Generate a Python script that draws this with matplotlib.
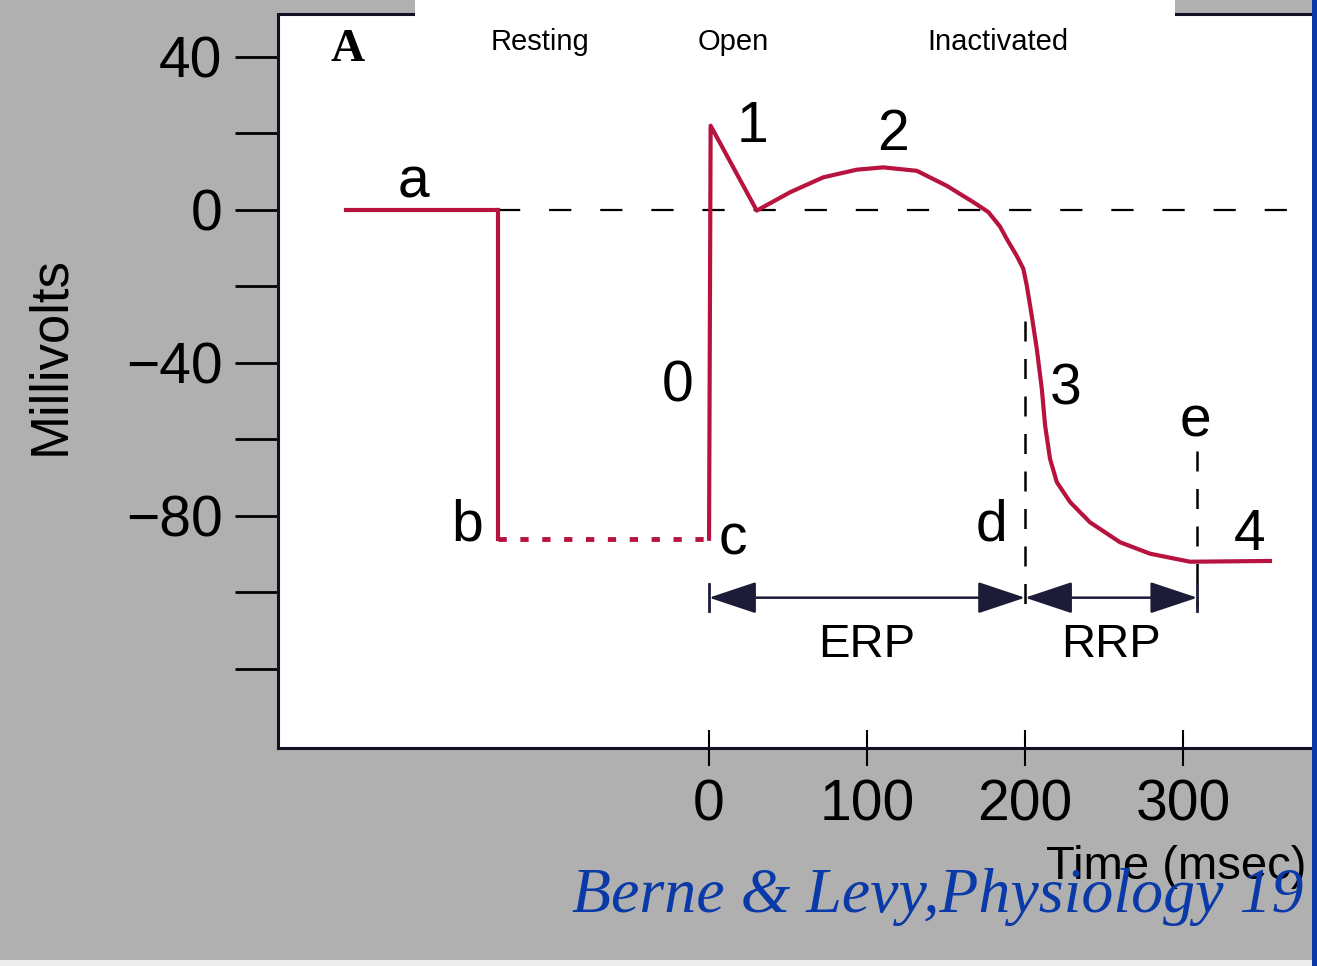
import matplotlib
matplotlib.use('Agg')
import matplotlib.pyplot as plt
from matplotlib.patches import Rectangle, FancyArrowPatch

plt.rcParams['font.family'] = ['Liberation Sans', 'DejaVu Sans']

# resting segment (a)
rest_t = [-230, -133.5]
rest_v = [0, 0]
# hyperpolarizing step a -> b
drop_t = [-133.5, -133.5]
drop_v = [0, -86]
# dotted b -> c
stim_t = [-133.5, 0]
stim_v = [-86, -86]
# action potential from c
ap_t = [0, 1, 30.2, 51.3, 72.3, 93.5, 110.3, 131.5, 150.4, 167.3, 176.8, 184.2,
        188.4, 194.7, 198.9, 201.1, 204.2, 207.4, 210.6, 212.7, 215.8, 220.1,
        228.5, 241.1, 260.1, 279.1, 304.4, 355]
ap_v = [-86, 22, -0.2, 4.6, 8.5, 10.5, 11.1, 10.2, 6.3, 2.0, -0.6, -4.4,
        -7.6, -12.0, -15.4, -19.8, -27.6, -36.3, -46.8, -56.4, -65.1, -71.2,
        -76.4, -81.7, -86.9, -89.9, -92.0, -91.8]

# zero reference line, d / e markers
zero_t = [-133.5, 400]
d_t, d_v = [200, 200], [-29, -103.5]
e_t, e_v = [309, 309], [-63, -103.5]

# refractory periods
erp = (0, 200)
rrp = (200, 309)
arrow_v = -101.4

y_major = [40, 0, -40, -80]
y_minor = [20, -20, -60, -100, -120]
x_major = [0, 100, 200, 300]

curve_labels = [('a', -187.3, 7.1), ('b', -153.2, -82.4), ('c', 15.2, -86.3),
                ('0', -19.6, -46.3), ('1', 27.8, 21.7), ('2', 116.5, 19.6),
                ('3', 226, -47), ('d', 179, -82.4), ('e', 307.6, -55.4),
                ('4', 342.4, -85)]
state_labels = [('Resting', 540), ('Open', 733), ('Inactivated', 998)]

red = '#b8123f'
ink = '#1c1c38'
W, H = 1317, 966

fig = plt.figure(figsize=(13.17, 9.66), dpi=100, facecolor='#b0b0b0')
ax = fig.add_axes([278 / W, 1 - 748 / H, (1312 - 278) / W, (748 - 14) / H])
ax.set_facecolor('white')
ax.set_xlim(-272.8, 381.6)
ax.set_ylim(-140.7, 51.2)

ax.plot(zero_t, [0, 0], color='black', lw=1.6, ls=(0, (10, 13)))
ax.plot(rest_t, rest_v, color=red, lw=3)
ax.plot(drop_t, drop_v, color=red, lw=3)
ax.plot(stim_t, stim_v, color=red, lw=3.5, ls=(0, (1.7, 2.8)))
ax.plot(ap_t, ap_v, color=red, lw=3, solid_joinstyle='round')
ax.plot(d_t, d_v, color='black', lw=1.8, ls=(0, (8, 7)))
ax.plot(e_t, e_v, color='black', lw=1.8, ls=(0, (8, 7)))

for a, b in [erp, rrp]:
    arr = FancyArrowPatch((a, arrow_v), (b, arrow_v),
                          arrowstyle='<|-|>,head_length=1.5,head_width=0.5',
                          mutation_scale=20, lw=1.8, color=ink,
                          shrinkA=0, shrinkB=0)
    ax.add_patch(arr)
for t in [erp[0], rrp[1]]:
    ax.plot([t, t], [arrow_v - 3.5, arrow_v + 3.5], color=ink, lw=2)

ax.text((erp[0] + erp[1]) / 2, -113.7, 'ERP', fontsize=34, ha='center', va='center')
ax.text((rrp[0] + rrp[1]) / 2, -113.7, 'RRP', fontsize=34, ha='center', va='center')

for s, t, v in curve_labels:
    ax.text(t, v, s, fontsize=41, ha='center', va='center')

ax.text(-229, 41.8, 'A', fontsize=34, fontweight='bold', family='Liberation Serif',
        ha='center', va='center')

ax.set_yticks(y_major)
ax.set_yticks(y_minor, minor=True)
ax.set_xticks(x_major)
ax.tick_params(axis='y', which='both', direction='out', length=31, width=2,
               labelsize=41, pad=9)
ax.tick_params(axis='x', direction='inout', length=26, width=1.5,
               labelsize=41, pad=9)

ax.spines['right'].set_visible(False)
for k in ['left', 'bottom', 'top']:
    ax.spines[k].set_linewidth(2.2)
    ax.spines[k].set_color('#111122')

ax.set_ylabel('Millivolts', fontsize=38)
ax.yaxis.set_label_coords(-0.196, 0.535)
ax.set_xlabel('Time (msec)', fontsize=34)
ax.xaxis.set_label_coords(0.8685, -0.132)

# white header box, state names
fig.patches.append(Rectangle((415 / W, 1 - 20 / H), (1175 - 415) / W, 20 / H,
                             transform=fig.transFigure, fc='white', ec='none', zorder=3))
for s, x in state_labels:
    fig.text(x / W, 1 - 42 / H, s, fontsize=21, ha='center', va='center', zorder=4)

# citation + blue edge
fig.text(572 / W, 1 - 912 / H, 'Berne & Levy,Physiology 19', color='#0a3aa8',
         family='Liberation Serif', style='italic', fontsize=46, va='baseline',
         ha='left', zorder=5)
fig.patches.append(Rectangle((1312 / W, 0), 5 / W, 1, transform=fig.transFigure,
                             fc='#0b36a5', ec='none', zorder=10))
fig.patches.append(Rectangle((0, 0), 1312 / W, 6 / H, transform=fig.transFigure,
                             fc='#ececec', ec='none', zorder=10))

fig.savefig('out.png', dpi=100, facecolor=fig.get_facecolor())
